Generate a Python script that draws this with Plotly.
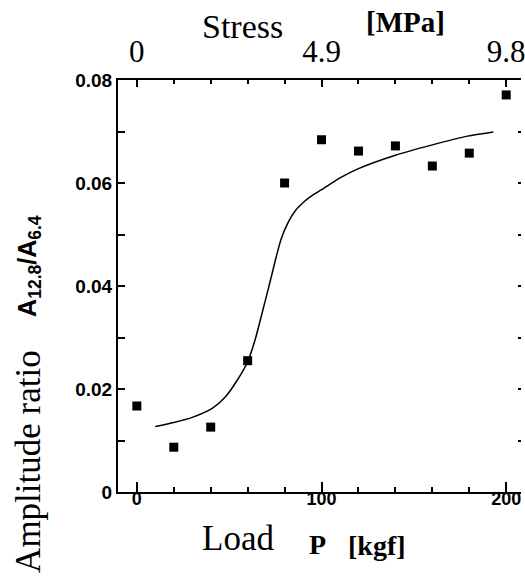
import plotly.graph_objects as go

# Measured data
load_kgf = [0, 20, 40, 60, 80, 100, 120, 140, 160, 180, 200]
amp_ratio = [0.0167, 0.0087, 0.0126, 0.0255, 0.0600, 0.0684, 0.0662, 0.0672, 0.0633, 0.0658, 0.0771]

# Fitted curve
fit_x = [10, 20, 30, 41, 48, 54, 60, 64, 68, 71.5, 75, 78, 82, 86, 91, 95, 100, 110, 120, 140, 160, 179, 193]
fit_y = [0.0127, 0.0135, 0.0145, 0.0163, 0.0185, 0.0215, 0.0253, 0.0295, 0.0350, 0.0399, 0.0450, 0.0490, 0.0524, 0.0547, 0.0565, 0.0576, 0.0587, 0.0610, 0.0628, 0.0654, 0.0674, 0.0691, 0.0699]

bottom_ticks = [0, 100, 200]
bottom_labels = ["0", "100", "200"]
top_labels = ["0", "4.9", "9.8"]
y_ticks = [0, 0.02, 0.04, 0.06, 0.08]
y_labels = ["0", "0.02", "0.04", "0.06", "0.08"]

XR = [-10.2, 208.0]
YR = [0, 0.08]

fig = go.Figure()
fig.add_trace(go.Scatter(x=fit_x, y=fit_y, mode="lines", line=dict(color="black", width=1.5, shape="spline", smoothing=0.6),
                         showlegend=False, hoverinfo="skip"))
fig.add_trace(go.Scatter(x=load_kgf, y=amp_ratio, mode="markers",
                         marker=dict(symbol="square", size=9, color="black"), showlegend=False))
# invisible traces to activate secondary axes
fig.add_trace(go.Scatter(x=[None], y=[None], xaxis="x2", yaxis="y", showlegend=False))
fig.add_trace(go.Scatter(x=[None], y=[None], xaxis="x", yaxis="y2", showlegend=False))

sans = "Liberation Sans, Arial, Helvetica, sans-serif"
serif = "Times New Roman, Times, Liberation Serif, Tinos, serif"

fig.update_layout(
    width=525, height=576,
    margin=dict(l=118, r=0, t=80, b=84),
    plot_bgcolor="white", paper_bgcolor="white",
    xaxis=dict(range=XR, showgrid=False, zeroline=False, showline=True, linecolor="black", linewidth=2,
               ticks="inside", ticklen=10, tickwidth=1.5, tickcolor="black",
               tickvals=bottom_ticks, ticktext=bottom_labels, ticklabeloverflow="allow",
               ticklabelstandoff=-11,
               tickfont=dict(family=sans, size=18, color="black", weight="bold"),
               minor=dict(dtick=20, tick0=0, ticks="inside", ticklen=5, tickwidth=1.5, tickcolor="black", showgrid=False)),
    xaxis2=dict(range=XR, overlaying="x", side="top", anchor="y", showgrid=False, zeroline=False,
                showline=True, linecolor="black", linewidth=2,
                ticks="inside", ticklen=7, tickwidth=1.5, tickcolor="black",
                tickvals=bottom_ticks, ticktext=top_labels, ticklabeloverflow="allow",
                ticklabelstandoff=4,
                tickfont=dict(family=serif, size=31, color="black"),
                minor=dict(dtick=20, tick0=0, ticks="inside", ticklen=4, tickwidth=1.5, tickcolor="black", showgrid=False)),
    yaxis=dict(range=YR, showgrid=False, zeroline=False, showline=True, linecolor="black", linewidth=2,
               ticks="inside", ticklen=7, tickwidth=1.5, tickcolor="black",
               tickvals=y_ticks, ticktext=y_labels, ticklabeloverflow="allow",
               tickfont=dict(family=sans, size=19, color="black", weight="bold"),
               minor=dict(dtick=0.01, tick0=0, ticks="inside", ticklen=7, tickwidth=1.5, tickcolor="black", showgrid=False)),
    yaxis2=dict(range=YR, overlaying="y", side="right", anchor="x", showgrid=False, zeroline=False,
                showline=False, ticks="inside", ticklen=3, tickwidth=1.5, tickcolor="black",
                tick0=0, dtick=0.01, showticklabels=False),
)

def px2paper(px, py):
    return (px - 118) / 407.0, (492 - py) / 412.0

annos = [
    ("Stress", 244, 27, serif, 34, 0),
    ("<b>[MPa]</b>", 408, 22, serif, 29, 0),
    ("Load", 239, 538, serif, 35, 0),
    ("<b>P</b>", 319, 544, serif, 28, 0),
    ("<b>[kgf]</b>", 380, 545, serif, 28, 0),
    ("Amplitude ratio", 27, 461, serif, 35, -90),
    ("<b>A<sub>12.8</sub>/A<sub>6.4</sub></b>", 28, 266, sans, 25, -90),
]
for text, px, py, fam, size, ang in annos:
    xp, yp = px2paper(px, py)
    fig.add_annotation(text=text, x=xp, y=yp, xref="paper", yref="paper", showarrow=False,
                       xanchor="center", yanchor="middle", textangle=ang,
                       font=dict(family=fam, size=size, color="black"))

fig.write_html("out.html")
